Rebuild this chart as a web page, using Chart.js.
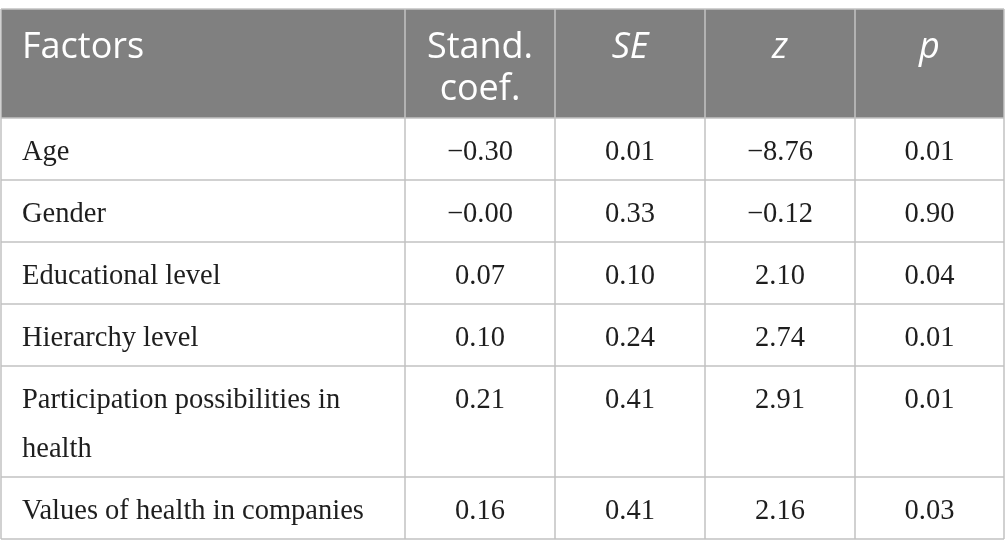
<!DOCTYPE html>
<html>
<head>
<meta charset="utf-8">
<script src="https://cdn.jsdelivr.net/npm/chart.js@4.4.1/dist/chart.umd.min.js"></script>
<style>
  html, body { margin: 0; padding: 0; background: #fff; }
  #wrap { width: 1005px; height: 557px; }
</style>
</head>
<body>
<div id="wrap"><canvas id="tbl" width="1005" height="557"></canvas></div>
<script>
// table content
const headers = ["Factors", "Stand.\ncoef.", "SE", "z", "p"];
const italicHeaders = [false, false, true, true, true];
const factors = [
  "Age",
  "Gender",
  "Educational level",
  "Hierarchy level",
  "Participation possibilities in health",
  "Values of health in companies",
];
const standCoef = [-0.30, -0.00, 0.07, 0.10, 0.21, 0.16];
const seValues = [0.01, 0.33, 0.10, 0.24, 0.41, 0.41];
const zValues = [-8.76, -0.12, 2.10, 2.74, 2.91, 2.16];
const pValues = [0.01, 0.90, 0.04, 0.01, 0.01, 0.03];

// layout (in scale units)
const colWidths = [404, 150, 150, 150, 149];
const headerHeight = 109;
const lineRow = 62;
const extraLine = 49;

const bodyFont = '28.5px "Liberation Serif", "Times New Roman", serif';
const headFont = '36px "Open Sans", "Noto Sans", sans-serif';

function fmt(v) {
  const neg = v < 0 || Object.is(v, -0);
  return (neg ? "\u2212" : "") + Math.abs(v).toFixed(2);
}

function wrap(ctx, text, maxW) {
  const words = text.split(" ");
  const lines = [];
  let cur = "";
  for (const w of words) {
    const t = cur ? cur + " " + w : w;
    if (cur && ctx.measureText(t).width > maxW) {
      lines.push(cur);
      cur = w;
    } else cur = t;
  }
  if (cur) lines.push(cur);
  return lines;
}

const canvas = document.getElementById("tbl");
const mctx = canvas.getContext("2d");
mctx.font = bodyFont;
const factorLines = factors.map(f => wrap(mctx, f, colWidths[0] - 40));
const rowHeights = [headerHeight, ...factorLines.map(l => lineRow + (l.length - 1) * extraLine)];
const totalW = colWidths.reduce((a, b) => a + b, 0);
const totalH = rowHeights.reduce((a, b) => a + b, 0);

const colEdges = [0];
colWidths.forEach(w => colEdges.push(colEdges[colEdges.length - 1] + w));
const rowEdges = [0];
rowHeights.forEach(h => rowEdges.push(rowEdges[rowEdges.length - 1] + h));

const bodyCols = [standCoef, seValues, zValues, pValues];

const tablePlugin = {
  id: "tableDraw",
  afterDraw(chart) {
    const { ctx, scales: { x, y } } = chart;
    const X = v => x.getPixelForValue(v);
    const Y = v => y.getPixelForValue(v);
    ctx.save();

    // header band
    ctx.fillStyle = "#808080";
    ctx.fillRect(X(0), Y(0), X(totalW) - X(0), Y(headerHeight) - Y(0));

    // header text
    ctx.fillStyle = "#ffffff";
    ctx.textBaseline = "alphabetic";
    headers.forEach((h, i) => {
      ctx.font = (italicHeaders[i] ? "italic " : "") + headFont;
      const lines = h.split("\n");
      lines.forEach((ln, k) => {
        const by = Y(0) + 49 + k * 42;
        if (i === 0) {
          ctx.textAlign = "left";
          ctx.fillText(ln, X(colEdges[0]) + 21, by);
        } else {
          ctx.textAlign = "center";
          ctx.fillText(ln, (X(colEdges[i]) + X(colEdges[i + 1])) / 2, by);
        }
      });
    });

    // body text
    ctx.fillStyle = "#1e1e1e";
    ctx.font = bodyFont;
    factorLines.forEach((lines, r) => {
      const top = Y(rowEdges[r + 1]);
      lines.forEach((ln, k) => {
        ctx.textAlign = "left";
        ctx.fillText(ln, X(colEdges[0]) + 21, top + 42 + k * extraLine);
      });
      bodyCols.forEach((col, c) => {
        ctx.textAlign = "center";
        ctx.fillText(fmt(col[r]), (X(colEdges[c + 1]) + X(colEdges[c + 2])) / 2, top + 42);
      });
    });

    // grid lines
    ctx.strokeStyle = "#c2c2c2";
    ctx.lineWidth = 1.5;
    ctx.beginPath();
    rowEdges.forEach(e => {
      ctx.moveTo(X(0), Y(e));
      ctx.lineTo(X(totalW), Y(e));
    });
    colEdges.forEach(e => {
      ctx.moveTo(X(e), Y(0));
      ctx.lineTo(X(e), Y(totalH));
    });
    ctx.stroke();
    ctx.restore();
  },
};

new Chart(canvas, {
  type: "scatter",
  data: { datasets: [{ data: [], pointRadius: 0 }] },
  options: {
    responsive: false,
    animation: false,
    devicePixelRatio: 1,
    layout: { padding: { top: 9, left: 1, right: 1, bottom: 557 - 9 - totalH } },
    plugins: { legend: { display: false }, tooltip: { enabled: false } },
    scales: {
      x: { type: "linear", display: false, min: 0, max: totalW },
      y: { type: "linear", display: false, min: 0, max: totalH, reverse: true },
    },
  },
  plugins: [tablePlugin],
});
</script>
</body>
</html>
